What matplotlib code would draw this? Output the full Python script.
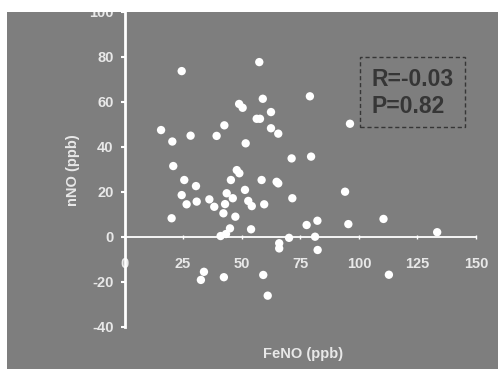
import matplotlib
matplotlib.use("Agg")
import matplotlib.pyplot as plt
from matplotlib.patches import Rectangle

plt.rcParams['font.family'] = ['Liberation Sans', 'DejaVu Sans']
plt.rcParams['axes.unicode_minus'] = False

# FeNO vs nNO
feno = [24.4, 48.9, 50.4, 15.6, 42.6, 20.4, 28.2, 39.3, 51.7, 57.5,
        79.1, 59.0, 62.5, 56.4, 57.8, 96.2, 62.5, 65.6, 20.8, 47.9,
        49.0, 25.5, 30.5, 45.4, 51.4, 24.4, 43.6, 46.2, 30.8, 26.5,
        36.2, 38.3, 42.9, 52.8, 54.3, 42.2, 47.3, 20.1, 45.0, 43.3,
        41.0, 71.3, 79.6, 58.5, 64.9, 65.6, 94.1, 71.6, 59.6, 82.3,
        77.7, 95.5, 54.0, 70.2, 81.3, 66.0, 66.0, 82.4, 33.9, 32.6,
        42.4, 59.2, 61.1, 110.5, 133.4, 112.8]
nno = [73.6, 59.0, 57.3, 47.4, 49.5, 42.3, 44.9, 44.8, 41.5, 77.6,
       62.4, 61.3, 55.4, 52.4, 52.4, 50.2, 48.2, 45.8, 31.4, 29.6,
       28.2, 25.2, 22.5, 25.2, 20.8, 18.5, 19.3, 17.1, 15.6, 14.4,
       16.6, 13.3, 14.5, 15.9, 13.6, 10.4, 8.9, 8.2, 3.7, 1.2,
       0.3, 34.8, 35.6, 25.2, 24.4, 23.7, 20.0, 17.1, 14.4, 7.1,
       5.2, 5.6, 3.3, -0.5, 0.0, -2.9, -5.2, -5.9, -15.6, -19.2,
       -18.0, -17.0, -26.2, 7.9, 2.0, -16.9]

x_ticks = [0, 25, 50, 75, 100, 125, 150]
y_ticks = [-40, -20, 0, 20, 40, 60, 80, 100]
stats_text = "R=-0.03\nP=0.82"

BG = '#7e7e7e'
LIGHT = '#e8e8e8'
DARK = '#363636'

fig = plt.figure(figsize=(4.98, 3.69), dpi=100, facecolor=BG)
ax = fig.add_axes([0.25, 0.1146, 0.706, 0.8537])
ax.set_facecolor(BG)

ax.scatter(feno, nno, s=36, color='white', edgecolors='none', zorder=3, clip_on=False)

ax.set_xlim(0, 150)
ax.set_ylim(-40, 100)

for s in ['top', 'right']:
    ax.spines[s].set_visible(False)
ax.spines['left'].set_position(('data', 0))
ax.spines['left'].set_bounds(-40, 100)
ax.spines['left'].set_color('white')
ax.spines['left'].set_linewidth(2)
ax.spines['bottom'].set_position(('data', 0))
ax.spines['bottom'].set_bounds(0, 150)
ax.spines['bottom'].set_color('white')
ax.spines['bottom'].set_linewidth(1.3)
ax.spines['bottom'].set_linestyle((0, (2, 1)))

ax.set_xticks(x_ticks)
ax.set_yticks(y_ticks)
ax.tick_params(axis='y', colors='white', length=3, width=1.5, pad=5,
               labelcolor=LIGHT, labelsize=10.5)
ax.tick_params(axis='x', colors='white', length=3, width=1, direction='inout',
               pad=13, labelcolor=LIGHT, labelsize=10.5)
for lab in ax.get_xticklabels() + ax.get_yticklabels():
    lab.set_fontweight('bold')

fig.text(0.608, 1 - 354 / 369, "FeNO (ppb)", ha='center', va='center',
         color=LIGHT, fontsize=10.5, fontweight='bold')
fig.text(73 / 498, 1 - 170 / 369, "nNO (ppb)", ha='center', va='center',
         rotation=90, color=LIGHT, fontsize=10.5, fontweight='bold')

# dashed box with the statistics
fig.add_artist(Rectangle((360 / 498, 1 - 127 / 369), 105 / 498, 70 / 369,
                         transform=fig.transFigure, fill=False,
                         edgecolor=DARK, linestyle=(0, (3, 2)), linewidth=1))
fig.text(371 / 498, 1 - 93 / 369, stats_text, ha='left', va='center',
         color=DARK, fontsize=16.5, fontweight='bold', linespacing=1.25)

# white border strips of the scan (the top one clips the "100" label)
fig.add_artist(Rectangle((0, 1 - 12 / 369), 1, 12 / 369, transform=fig.transFigure,
                         facecolor='white', edgecolor='none', zorder=10))
fig.add_artist(Rectangle((0, 0), 7 / 498, 1, transform=fig.transFigure,
                         facecolor='white', edgecolor='none', zorder=10))

fig.savefig('out.png', dpi=100, facecolor=BG)
